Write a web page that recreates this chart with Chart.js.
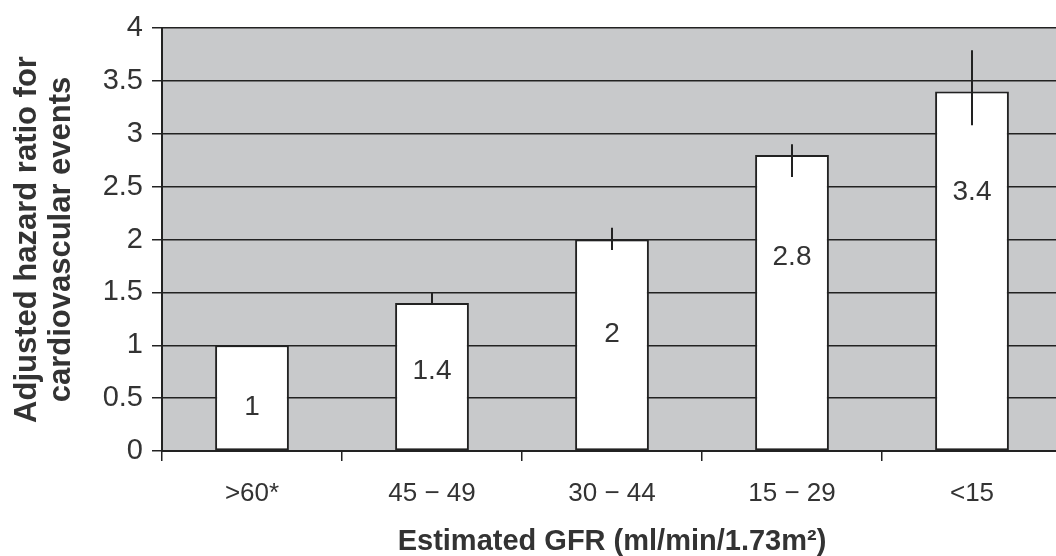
<!DOCTYPE html>
<html>
<head>
<meta charset="utf-8">
<script src="https://cdn.jsdelivr.net/npm/chart.js@4/dist/chart.umd.min.js"></script>
<style>
  html, body { margin: 0; padding: 0; background: #fff; overflow: hidden; }
  #wrap { width: 1064px; height: 556px; }
</style>
</head>
<body>
<div id="wrap"><canvas id="hrChart" width="1064" height="556"></canvas></div>
<script>
// data
var gfrGroups = ['>60*', '45 \u2212 49', '30 \u2212 44', '15 \u2212 29', '<15'];
var hazardRatio = [1, 1.4, 2, 2.8, 3.4];
var ciLow = [null, 1.38, 1.9, 2.59, 3.08];
var ciHigh = [null, 1.5, 2.11, 2.9, 3.79];
var valueLabels = ['1', '1.4', '2', '2.8', '3.4'];

var FONT = "'Liberation Sans', Arial, Helvetica, sans-serif";
var INK = '#222222';

var plotBackground = {
  id: 'plotBackground',
  beforeDraw: function (chart) {
    var a = chart.chartArea, ctx = chart.ctx;
    ctx.save();
    ctx.fillStyle = '#c8c9cb';
    ctx.fillRect(a.left, a.top, a.right - a.left, a.bottom - a.top);
    ctx.restore();
  }
};

// vertical error lines (no caps) and the value text inside each bar
var barExtras = {
  id: 'barExtras',
  afterDatasetsDraw: function (chart, args, opts) {
    var ctx = chart.ctx;
    var y = chart.scales.y;
    var meta = chart.getDatasetMeta(0);
    ctx.save();
    ctx.strokeStyle = INK;
    ctx.lineWidth = 2;
    meta.data.forEach(function (bar, i) {
      if (ciLow[i] == null) return;
      ctx.beginPath();
      ctx.moveTo(bar.x, y.getPixelForValue(ciLow[i]));
      ctx.lineTo(bar.x, y.getPixelForValue(ciHigh[i]));
      ctx.stroke();
    });
    ctx.fillStyle = '#333333';
    ctx.font = '28px ' + FONT;
    ctx.textAlign = 'center';
    ctx.textBaseline = 'middle';
    meta.data.forEach(function (bar, i) {
      ctx.fillText(valueLabels[i], bar.x, y.getPixelForValue(opts.labelAt[i]));
    });
    ctx.restore();
  }
};

new Chart(document.getElementById('hrChart'), {
  type: 'bar',
  data: {
    labels: gfrGroups,
    datasets: [{
      data: hazardRatio,
      backgroundColor: '#ffffff',
      borderColor: INK,
      borderWidth: 2,
      borderSkipped: false,
      barPercentage: 0.41,
      categoryPercentage: 1
    }]
  },
  options: {
    responsive: false,
    animation: false,
    layout: { padding: { top: 28, right: 2, left: 0, bottom: 0 } },
    plugins: {
      legend: { display: false },
      tooltip: { enabled: false },
      barExtras: { labelAt: [0.41, 0.75, 1.1, 1.83, 2.45] }
    },
    scales: {
      x: {
        afterFit: function (s) { s.height = 105; },
        grid: {
          offset: true,
          drawOnChartArea: false,
          drawTicks: true,
          tickLength: 10,
          color: INK,
          lineWidth: 1.5
        },
        border: { display: true, color: INK, width: 2 },
        ticks: {
          color: '#333333',
          padding: 17,
          maxRotation: 0,
          font: { family: FONT, size: 26 }
        },
        title: {
          display: true,
          text: 'Estimated GFR (ml/min/1.73m\u00b2)',
          color: '#333333',
          padding: { top: 0, bottom: 0 },
          font: { family: FONT, size: 29, weight: 'bold', lineHeight: 1.0 }
        }
      },
      y: {
        min: 0,
        max: 4,
        afterFit: function (s) { s.width = 162; },
        grid: {
          color: INK,
          lineWidth: 1.5,
          drawTicks: true,
          tickLength: 10
        },
        border: { display: true, color: INK, width: 2 },
        ticks: {
          stepSize: 0.5,
          color: '#333333',
          padding: 9,
          font: { family: FONT, size: 29 },
          callback: function (v) { return String(v); }
        },
        title: {
          display: true,
          text: ['Adjusted hazard ratio for', 'cardiovascular events'],
          color: '#333333',
          padding: { top: 11, bottom: 0 },
          font: { family: FONT, size: 31, weight: 'bold', lineHeight: 1.08 }
        }
      }
    }
  },
  plugins: [plotBackground, barExtras]
});
</script>
</body>
</html>
